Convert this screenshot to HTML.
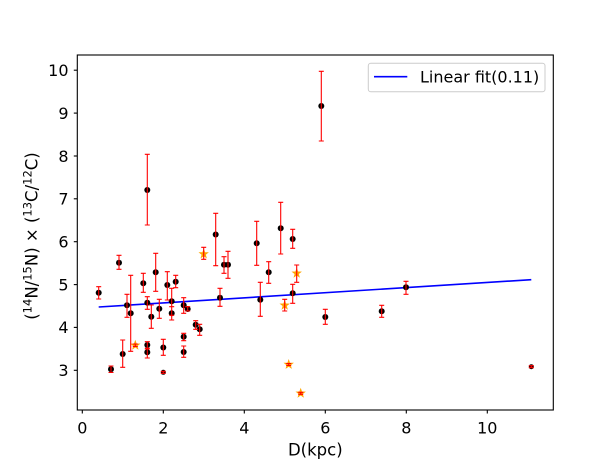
<!DOCTYPE html>
<html><head><meta charset="utf-8"><style>
html,body{margin:0;padding:0;background:#fff;}
svg{display:block;}
text{font-family:"DejaVu Sans","Liberation Sans",sans-serif;fill:#000;}
</style></head><body>
<svg width="614" height="461" viewBox="0 0 614 461" xmlns="http://www.w3.org/2000/svg">
<rect width="614" height="461" fill="#fff"/>
<line x1="98.7" y1="307" x2="531.3" y2="279.7" stroke="#0000ff" stroke-width="1.6"/>
<g fill="#000">
<circle cx="98.7" cy="292.7" r="3"/>
<circle cx="111" cy="369.3" r="3"/>
<circle cx="119" cy="262.7" r="3"/>
<circle cx="122.7" cy="354" r="3"/>
<circle cx="127" cy="305.3" r="3"/>
<circle cx="130.7" cy="313.3" r="3"/>
<circle cx="143.3" cy="283.3" r="3"/>
<circle cx="147.3" cy="302.7" r="3"/>
<circle cx="147.3" cy="345" r="3"/>
<circle cx="147.3" cy="352.3" r="3"/>
<circle cx="155.7" cy="272.3" r="3"/>
<circle cx="151.3" cy="316.7" r="3"/>
<circle cx="159.3" cy="308.7" r="3"/>
<circle cx="163.3" cy="347.5" r="3"/>
<circle cx="163.3" cy="372.3" r="2.5"/>
<circle cx="167.3" cy="285" r="3"/>
<circle cx="171.7" cy="301.3" r="3"/>
<circle cx="171.7" cy="313.3" r="3"/>
<circle cx="175.7" cy="281.7" r="3"/>
<circle cx="183.7" cy="305.3" r="3"/>
<circle cx="183.7" cy="336.7" r="3"/>
<circle cx="183.7" cy="352" r="3"/>
<circle cx="187.7" cy="309" r="3"/>
<circle cx="195.7" cy="324.7" r="3"/>
<circle cx="199.7" cy="329.3" r="3"/>
<circle cx="215.7" cy="234.5" r="3"/>
<circle cx="220" cy="297.7" r="3"/>
<circle cx="224" cy="264.7" r="3"/>
<circle cx="228" cy="264.7" r="3"/>
<circle cx="256.7" cy="243.3" r="3"/>
<circle cx="260.3" cy="299.7" r="3"/>
<circle cx="268.7" cy="272.3" r="3"/>
<circle cx="280.7" cy="228.3" r="3"/>
<circle cx="292.7" cy="239" r="3"/>
<circle cx="292.7" cy="293.3" r="3"/>
<circle cx="321.3" cy="106" r="3"/>
<circle cx="325.3" cy="317" r="3"/>
<circle cx="381.7" cy="311.3" r="3"/>
<circle cx="406" cy="287.3" r="3"/>
<circle cx="531.3" cy="366.7" r="2.5"/>
<circle cx="147.3" cy="190" r="3"/>
</g>
<defs>
<path id="st" d="M0,-5.5 L1.3,-1.8 L5.2,-1.7 L2.1,0.7 L3.2,4.4 L0,2.2 L-3.2,4.4 L-2.1,0.7 L-5.2,-1.7 L-1.3,-1.8 Z" fill="#ffa500"/>
</defs>
<use href="#st" x="135.3" y="345.3"/>
<use href="#st" x="203.7" y="254"/>
<use href="#st" x="284.7" y="305.3"/>
<use href="#st" x="288.7" y="364.5"/>
<use href="#st" x="296.7" y="273.3"/>
<use href="#st" x="300.7" y="393.3"/>
<path stroke="#ff0000" stroke-width="1.1" fill="none" d="M98.7,286.7V299 M96.2,286.7h5 M96.2,299h5 M111,366V372.5 M108.5,366h5 M108.5,372.5h5 M119,255.3V269.3 M116.5,255.3h5 M116.5,269.3h5 M122.7,340V367.3 M120.2,340h5 M120.2,367.3h5 M127,294.3V317.3 M124.5,294.3h5 M124.5,317.3h5 M130.7,275.3V351.3 M128.2,275.3h5 M128.2,351.3h5 M135.3,344V346.5 M132.8,344h5 M132.8,346.5h5 M143.3,273.3V292.3 M140.8,273.3h5 M140.8,292.3h5 M147.3,296.7V309.3 M144.8,296.7h5 M144.8,309.3h5 M147.3,341.7V349 M144.8,341.7h5 M144.8,349h5 M147.3,348.3V358 M144.8,348.3h5 M144.8,358h5 M155.7,253.3V291.3 M153.2,253.3h5 M153.2,291.3h5 M151.3,305V328.3 M148.8,305h5 M148.8,328.3h5 M159.3,299.3V318.3 M156.8,299.3h5 M156.8,318.3h5 M163.3,339.3V355.3 M160.8,339.3h5 M160.8,355.3h5 M163.3,371.3V373.3 M160.8,371.3h5 M160.8,373.3h5 M167.3,271.7V300 M164.8,271.7h5 M164.8,300h5 M171.7,288.3V315.3 M169.2,288.3h5 M169.2,315.3h5 M171.7,306.7V320 M169.2,306.7h5 M169.2,320h5 M175.7,275.3V287.7 M173.2,275.3h5 M173.2,287.7h5 M183.7,297.7V313.3 M181.2,297.7h5 M181.2,313.3h5 M183.7,333.3V340.7 M181.2,333.3h5 M181.2,340.7h5 M183.7,346V357.3 M181.2,346h5 M181.2,357.3h5 M187.7,306.7V311 M185.2,306.7h5 M185.2,311h5 M195.7,320.7V329.3 M193.2,320.7h5 M193.2,329.3h5 M199.7,324.3V335.3 M197.2,324.3h5 M197.2,335.3h5 M203.7,247.3V259.3 M201.2,247.3h5 M201.2,259.3h5 M215.7,213.3V265.7 M213.2,213.3h5 M213.2,265.7h5 M220,288.3V306.3 M217.5,288.3h5 M217.5,306.3h5 M224,256.7V273.3 M221.5,256.7h5 M221.5,273.3h5 M228,251.3V278.3 M225.5,251.3h5 M225.5,278.3h5 M256.7,221.3V265.3 M254.2,221.3h5 M254.2,265.3h5 M260.3,282.3V316.3 M257.8,282.3h5 M257.8,316.3h5 M268.7,261.7V283.3 M266.2,261.7h5 M266.2,283.3h5 M280.7,202.3V254 M278.2,202.3h5 M278.2,254h5 M292.7,229.3V248.3 M290.2,229.3h5 M290.2,248.3h5 M284.7,299.3V311 M282.2,299.3h5 M282.2,311h5 M292.7,284.3V303.3 M290.2,284.3h5 M290.2,303.3h5 M288.7,363.5V365.5 M286.2,363.5h5 M286.2,365.5h5 M296.7,265V282.3 M294.2,265h5 M294.2,282.3h5 M300.7,392.3V394.3 M298.2,392.3h5 M298.2,394.3h5 M321.3,71.3V141 M318.8,71.3h5 M318.8,141h5 M325.3,309.3V324.3 M322.8,309.3h5 M322.8,324.3h5 M381.7,305.3V317.3 M379.2,305.3h5 M379.2,317.3h5 M406,281.3V294.3 M403.5,281.3h5 M403.5,294.3h5 M531.3,365.7V367.7 M528.8,365.7h5 M528.8,367.7h5 M147.3,154.3V225 M144.8,154.3h5 M144.8,225h5"/>
<rect x="77.3" y="55" width="476" height="355" fill="none" stroke="#000" stroke-width="1.1"/>
<g stroke="#000" stroke-width="1.1">
<line x1="73.8" y1="70.2" x2="77.3" y2="70.2"/>
<line x1="73.8" y1="113.1" x2="77.3" y2="113.1"/>
<line x1="73.8" y1="156" x2="77.3" y2="156"/>
<line x1="73.8" y1="198.8" x2="77.3" y2="198.8"/>
<line x1="73.8" y1="241.7" x2="77.3" y2="241.7"/>
<line x1="73.8" y1="284.6" x2="77.3" y2="284.6"/>
<line x1="73.8" y1="327.4" x2="77.3" y2="327.4"/>
<line x1="73.8" y1="370.3" x2="77.3" y2="370.3"/>
<line x1="82.3" y1="410" x2="82.3" y2="413.5"/>
<line x1="163.3" y1="410" x2="163.3" y2="413.5"/>
<line x1="244.3" y1="410" x2="244.3" y2="413.5"/>
<line x1="325.3" y1="410" x2="325.3" y2="413.5"/>
<line x1="406.3" y1="410" x2="406.3" y2="413.5"/>
<line x1="487.3" y1="410" x2="487.3" y2="413.5"/>
</g>
<g font-size="16" text-anchor="end">
<text x="68.5" y="76">10</text>
<text x="68.5" y="118.9">9</text>
<text x="68.5" y="161.8">8</text>
<text x="68.5" y="204.6">7</text>
<text x="68.5" y="247.5">6</text>
<text x="68.5" y="290.4">5</text>
<text x="68.5" y="333.2">4</text>
<text x="68.5" y="376.1">3</text>
</g>
<g font-size="16" text-anchor="middle">
<text x="82.3" y="433.5">0</text>
<text x="163.3" y="433.5">2</text>
<text x="244.3" y="433.5">4</text>
<text x="325.3" y="433.5">6</text>
<text x="406.3" y="433.5">8</text>
<text x="487.3" y="433.5">10</text>
</g>
<text x="315.3" y="455.5" font-size="16.5" text-anchor="middle">D(kpc)</text>
<text font-size="16.5" text-anchor="middle" transform="translate(37.5,236) rotate(-90)">(<tspan font-size="11.5" dy="-6">14</tspan><tspan dy="6">N/</tspan><tspan font-size="11.5" dy="-6">15</tspan><tspan dy="6">N) × (</tspan><tspan font-size="11.5" dy="-6">13</tspan><tspan dy="6">C/</tspan><tspan font-size="11.5" dy="-6">12</tspan><tspan dy="6">C)</tspan></text>
<rect x="368.3" y="63.3" width="176.7" height="28.4" rx="2.5" fill="#fff" fill-opacity="0.8" stroke="#cccccc" stroke-width="1"/>
<line x1="374" y1="76.7" x2="407.3" y2="76.7" stroke="#0000ff" stroke-width="1.6"/>
<text x="420" y="82.5" font-size="16">Linear fit(0.11)</text>
</svg>
</body></html>
